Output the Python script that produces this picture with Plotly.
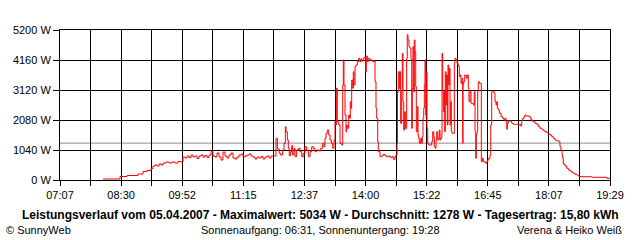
import plotly.graph_objects as go

# ---- data ----
minute_of_day = [
    485.0, 507.9, 517.4, 532.2, 539.0, 544.4, 549.8, 552.5, 555.2, 557.9, 560.6, 563.3, 566.0, 570.0,
    574.1, 578.1, 582.2, 586.2, 590.2, 592.9,
    595.6, 598.3, 601.0, 603.7, 606.4, 609.1, 611.8, 614.5, 617.2, 619.9, 622.6, 625.3, 628.0, 630.7,
    633.4, 636.1, 638.8, 641.5, 644.2, 646.9, 649.6, 652.3, 655.0, 657.7, 660.4, 663.1, 665.8, 668.5,
    671.2, 673.9, 676.6, 679.3, 682.0, 684.7, 687.4, 690.1, 692.8, 695.5, 698.2, 700.9, 703.6, 706.3,
    709.0, 711.7, 714.4,
    718.4, 720.2, 722.9, 724.7, 727.4, 729.2, 731.0, 731.9, 733.7, 735.0, 736.3, 738.2, 739.6, 740.9,
    742.7, 744.0, 746.3, 748.5, 750.8, 753.1, 755.2, 757.5, 759.8, 762.0, 764.3, 766.6, 768.7, 771.0,
    773.3, 776.8, 778.7, 781.4, 783.2, 784.5, 785.9, 787.6, 789.5, 791.3, 793.0, 794.9, 796.7, 798.0,
    799.0, 799.8, 801.1, 803.0, 804.8, 807.0, 808.4, 809.2, 810.1, 811.5, 812.8, 813.8, 815.1, 816.5,
    817.8, 818.6, 819.6, 820.5, 821.9, 822.7, 823.6, 825.0, 826.3, 828.1, 830.0, 831.7, 833.1, 834.4,
    836.2, 837.5, 838.5, 839.4, 840.2, 841.6, 842.9, 844.3, 846.2, 847.5, 848.9, 851.0, 852.0, 853.3,
    854.3, 855.6, 856.4, 858.7, 861.0, 863.2, 865.5, 867.8, 869.9, 872.2, 874.5, 876.7, 879.0, 880.3,
    881.7,
    882.3, 883.4, 884.8, 885.7, 886.6, 888.0, 888.8, 889.7, 890.7, 892.0, 892.9, 894.7, 895.5, 896.5,
    897.8, 899.2, 900.5, 901.5, 902.3, 903.2, 904.2, 905.0, 905.9, 906.9, 907.7, 909.0, 910.0, 910.9,
    911.7, 913.6, 915.0, 915.8, 916.7, 917.7, 918.5, 919.4, 920.4, 921.2, 922.1, 923.1, 924.4, 926.2,
    928.5, 929.8, 931.2, 932.0, 933.3, 934.3, 935.2, 936.6, 937.9, 938.7, 939.7, 940.6, 942.0, 942.4,
    943.3, 944.1, 945.1, 946.0, 946.8, 947.8, 948.7, 949.5, 950.4, 951.4, 952.2, 953.2, 954.1, 954.9,
    955.9, 957.6, 959.0, 959.9, 961.3, 962.6, 964.0, 964.9, 965.7, 967.1, 968.0, 969.3, 970.3, 970.7,
    971.6, 973.0, 974.3, 975.1, 976.5, 977.8, 978.8, 980.1, 981.5, 982.8, 984.6, 985.9, 986.9, 987.8,
    988.6, 989.6, 990.5, 991.3, 992.7, 994.6, 995.4, 996.7, 998.1, 999.4, 1000.8, 1002.7, 1004.0, 1005.4,
    1007.1, 1008.1, 1009.4, 1010.8, 1012.1, 1012.9, 1013.9, 1015.2, 1016.2, 1017.0, 1018.3, 1019.7,
    1020.6, 1022.0, 1024.3, 1026.0, 1027.4, 1028.7, 1029.7, 1030.5, 1031.8, 1035.0, 1036.4, 1038.6,
    1043.1, 1045.3, 1047.6, 1048.5, 1049.9, 1051.2, 1053.0, 1054.3, 1055.7, 1057.4, 1060.1, 1062.0,
    1063.8, 1065.5, 1067.8, 1070.1, 1072.3, 1074.6, 1076.9, 1079.0, 1081.3, 1083.6, 1085.8, 1088.1,
    1090.4, 1092.5, 1094.8, 1097.1, 1099.3, 1100.6, 1101.5, 1102.9, 1104.3, 1105.2, 1106.0, 1108.3,
    1110.6, 1112.8, 1115.0, 1117.3, 1119.5, 1121.8, 1124.1, 1126.2, 1128.5, 1144.3, 1164.6, 1169.0,
]
power_w = [
    35, 121, 156, 208, 295, 329, 399, 485, 520, 485, 555, 520, 589, 624,
    589, 624, 589, 641, 624, 797,
    763, 832, 780, 867, 797, 832, 745, 832, 867, 797, 849, 780, 867, 988,
    832, 797, 936, 797, 693, 971, 832, 763, 867, 936, 763, 728, 797, 867,
    901, 797, 832, 867, 901, 832, 797, 728, 797, 763, 815, 728, 797, 832,
    763, 832, 832,
    1446, 1075, 926, 867, 1040, 1272, 1848, 1674, 1387, 1099, 842, 981, 1189, 867,
    1099, 808, 1040, 1099, 981, 808, 926, 1154, 1040, 808, 981, 1154, 1099, 981,
    1040, 1005, 1099, 1272, 1154, 1446, 1619, 1733, 1560, 1387, 1272, 1099, 1387, 2021,
    1907, 3179, 2021, 1907, 1272, 1213, 3293, 4160, 3293, 2253, 1674, 1907, 1792, 2253,
    2139, 2714, 2486, 3467, 3179, 3754, 3293, 3928, 3987, 4101, 4219, 4101, 4195, 4125,
    4219, 4254, 4274, 3754, 4299, 4101, 4219, 4195, 4136, 4160, 4101, 4125, 3408, 2486,
    2139, 1328, 981, 808, 842, 891, 842, 808, 832, 787, 808, 718, 832, 867,
    1272,
    3061, 3754, 3179, 3754, 1966, 3061, 4392, 2714, 1733, 2368, 1792, 4219, 5034, 4853,
    4621, 4566, 4219, 1792, 3179, 4621, 3061, 4853, 4448, 3234, 1674, 2541, 1560, 1446,
    1272, 1446, 1272, 1501, 2139, 2486, 3293, 4160, 2253, 3754, 1792, 1272, 1213, 1213,
    1328, 1674, 1501, 1154, 1099, 1387, 1674, 1387, 1446, 1733, 1387, 1446, 1560, 4392,
    3061, 2368, 3061, 1674, 3754, 2600, 3640, 1907, 3987, 3293, 3872, 1907, 2714, 1674,
    1619, 1619, 4046, 4219, 4160, 4046, 3987, 3928, 3581, 3640, 3352, 3526, 1272, 3293,
    3408, 3640, 3640, 3526, 3640, 3179, 2714, 3061, 2659, 2659, 2600, 3061, 1674, 752,
    1560, 1674, 3061, 3408, 3352, 3352, 634, 752, 634, 634, 579, 634, 693, 752,
    867, 1907, 3061, 3061, 3061, 3006, 2714, 2600, 2714, 2486, 2427, 2312,
    2312, 2194, 2139, 2080, 2139, 2021, 1758, 1966, 2045, 2045, 1966, 1931,
    1931, 1907, 1931, 1872, 2080, 2139, 2194, 2253, 2219, 2219, 2194, 2104,
    2045, 2021, 1966, 1931, 1848, 1792, 1758, 1709, 1674, 1640, 1595, 1560,
    1501, 1446, 1387, 1362, 1352, 1328, 1154, 1040, 867, 752, 555, 485,
    406, 347, 312, 267, 232, 198, 173, 139, 114, 94, 59, 59,
]
x_tick_labels = ["07:07", "08:30", "09:52", "11:15", "12:37", "14:00", "15:22", "16:45", "18:07", "19:29"]
y_tick_values = [0, 1040, 2080, 3120, 4160, 5200]
average_w = 1278
title_text = ("Leistungsverlauf vom 05.04.2007 - Maximalwert: 5034 W - "
              "Durchschnitt: 1278 W - Tagesertrag: 15,80 kWh")
footer_left = "© SunnyWeb"
footer_center = "Sonnenaufgang: 06:31, Sonnenuntergang: 19:28"
footer_right = "Verena & Heiko Weiß"


def to_minutes(s):
    h, m = s.split(":")
    return int(h) * 60 + int(m)


x_start = to_minutes(x_tick_labels[0])
x_end = to_minutes(x_tick_labels[-1])
n_int = 2 * (len(x_tick_labels) - 1)
x_tickvals = [x_start + (x_end - x_start) * i / n_int for i in range(n_int + 1)]
x_ticktext = [x_tick_labels[i // 2] if i % 2 == 0 else "" for i in range(n_int + 1)]

FONT = "Liberation Sans, Arial, sans-serif"

fig = go.Figure()
fig.add_trace(go.Scatter(
    x=minute_of_day, y=power_w, mode="lines",
    line=dict(color="#ff0000", width=1, shape="hv"),
    hoverinfo="skip", showlegend=False,
))
fig.add_shape(type="line", xref="paper", x0=0, x1=1, yref="y",
              y0=average_w, y1=average_w,
              line=dict(color="#8c8c8c", width=1), layer="below")

axis_common = dict(
    showgrid=True, gridcolor="#000000", gridwidth=1,
    showline=True, linecolor="#000000", linewidth=1, mirror=True,
    ticks="outside", tickcolor="#000000", tickwidth=1,
    zeroline=False, fixedrange=True,
    tickfont=dict(family=FONT, size=11, color="#000000"),
)
fig.update_xaxes(range=[x_start, x_end], tickmode="array",
                 tickvals=x_tickvals, ticktext=x_ticktext, ticklen=5, **axis_common)
fig.update_yaxes(range=[0, 5200], tickmode="array", tickvals=y_tick_values,
                 ticktext=[f"{v} W" for v in y_tick_values], ticklen=6, **axis_common)

L, R, T, B = 60, 30, 30, 60
PW, PH = 640 - L - R, 240 - T - B


def px_x(x):
    return (x - L) / PW


def px_y(y):
    return (T + PH - y) / PH


ann = [
    dict(text="<b>" + title_text + "</b>", x=px_x(320), y=px_y(214.5), xanchor="center",
         yanchor="middle", font=dict(family=FONT, size=12, color="#000000")),
    dict(text=footer_left, x=px_x(4), y=px_y(229.5), xanchor="left", yanchor="middle",
         font=dict(family=FONT, size=11, color="#000000")),
    dict(text=footer_center, x=px_x(320), y=px_y(229.5), xanchor="center", yanchor="middle",
         font=dict(family=FONT, size=11, color="#000000")),
    dict(text=footer_right, x=px_x(624), y=px_y(229.5), xanchor="right", yanchor="middle",
         font=dict(family=FONT, size=11, color="#000000")),
]
for a in ann:
    a.update(xref="paper", yref="paper", showarrow=False)

fig.update_layout(
    width=640, height=240,
    margin=dict(l=L, r=R, t=T, b=B, pad=0),
    paper_bgcolor="#ffffff", plot_bgcolor="#ffffff",
    showlegend=False, annotations=ann,
    font=dict(family=FONT, size=11, color="#000000"),
)

fig.write_html("out.html", config={"displayModeBar": False})
